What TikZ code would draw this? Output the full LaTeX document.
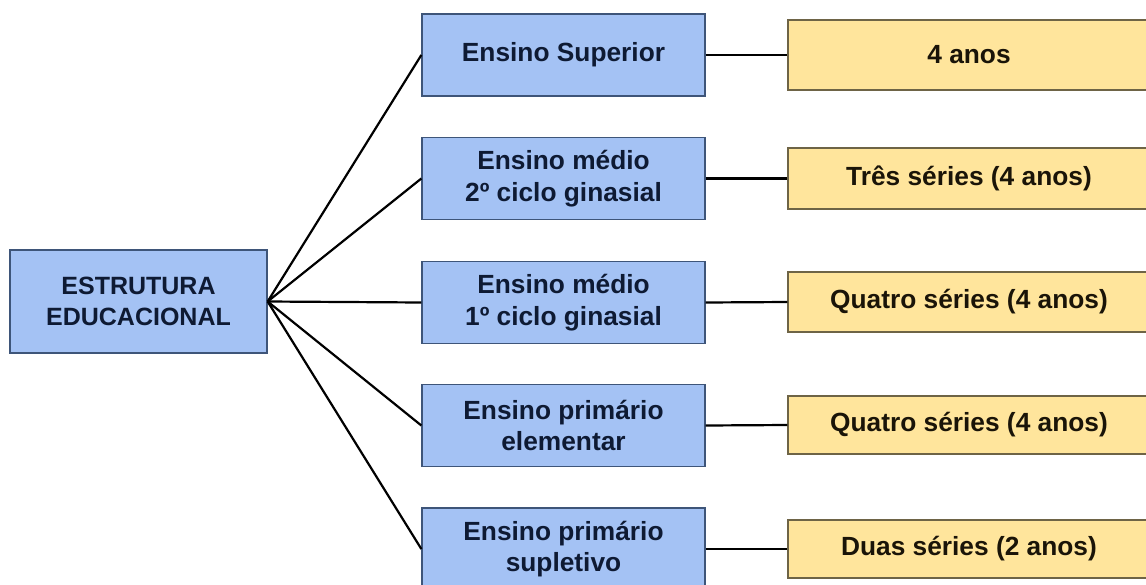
\documentclass[tikz,border=0pt]{standalone}
\usepackage{fontspec}
\setmainfont{Liberation Sans}
\definecolor{bluefill}{HTML}{A4C2F4}
\definecolor{blueline}{HTML}{3E5579}
\definecolor{bluetext}{HTML}{0E1A33}
\definecolor{yellowfill}{HTML}{FFE59C}
\definecolor{yellowline}{HTML}{6E6446}
\definecolor{yellowtext}{HTML}{1A1408}
\tikzset{
  rootbox/.style={draw=blueline, line width=1.3pt, fill=bluefill, text=bluetext,
    minimum width=257pt, minimum height=103pt, inner sep=0pt, align=center,
    font=\fontsize{25}{31}\selectfont\bfseries},
  levelbox/.style={draw=blueline, line width=1.3pt, fill=bluefill, text=bluetext,
    minimum width=283pt, minimum height=82pt, inner sep=0pt, align=center,
    font=\fontsize{26.3}{31.5}\selectfont\bfseries},
  durbox/.style={draw=yellowline, line width=1.3pt, fill=yellowfill, text=yellowtext,
    minimum width=362pt, inner sep=0pt, align=center,
    font=\fontsize{26.3}{31.5}\selectfont\bfseries},
  link/.style={draw=black, line width=2.2pt}
}
\begin{document}
\begin{tikzpicture}[x=1pt,y=1pt]
\useasboundingbox (0,0) rectangle (1146,-584);
\clip (0,0) rectangle (1146,-584);
\fill[white] (0,0) rectangle (1146,-584);

\node[rootbox] (root) at (138.5,-301.5) {ESTRUTURA\\EDUCACIONAL};

\node[levelbox] (m1) at (563.5,-55) {Ensino Superior};
\node[levelbox] (m2) at (563.5,-178.5) {Ensino médio\\2º ciclo ginasial};
\node[levelbox] (m3) at (563.5,-302.5) {Ensino médio\\1º ciclo ginasial};
\node[levelbox] (m4) at (563.5,-425.5) {Ensino primário\\elementar};
\node[levelbox] (m5) at (563.5,-549) {Ensino primário\\supletivo};

\node[durbox, minimum height=70pt] (y1) at (969,-55) {4 anos};
\node[durbox, minimum height=61pt] (y2) at (969,-178.5) {Três séries (4 anos)};
\node[durbox, minimum height=60pt] (y3) at (969,-302) {Quatro séries (4 anos)};
\node[durbox, minimum height=58pt] (y4) at (969,-425) {Quatro séries (4 anos)};
\node[durbox, minimum height=58pt] (y5) at (969,-549) {Duas séries (2 anos)};

\foreach \m in {m1,m2,m3,m4,m5}{
  \draw[link] (root.east) -- (\m.west);
}
\draw[link] (m1.east) -- (y1.west);
\draw[link] (m2.east) -- (y2.west);
\draw[link] (m3.east) -- (y3.west);
\draw[link] (m4.east) -- (y4.west);
\draw[link] (m5.east) -- (y5.west);
\end{tikzpicture}
\end{document}
